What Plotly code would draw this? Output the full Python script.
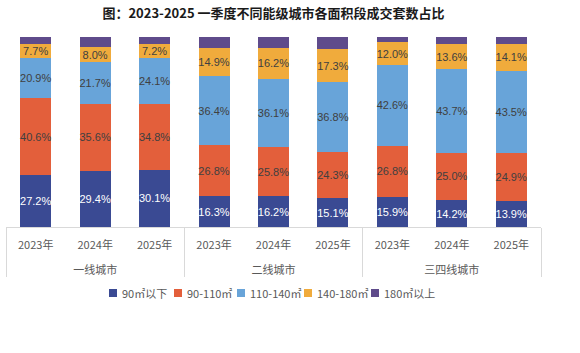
import plotly.graph_objects as go

groups = ["一线城市", "二线城市", "三四线城市"]
years = ["2023年", "2024年", "2025年"]
series_names = ["90㎡以下", "90-110㎡", "110-140㎡", "140-180㎡", "180㎡以上"]
s90 = [27.2, 29.4, 30.1, 16.3, 16.2, 15.1, 15.9, 14.2, 13.9]
s90_110 = [40.6, 35.6, 34.8, 26.8, 25.8, 24.3, 26.8, 25.0, 24.9]
s110_140 = [20.9, 21.7, 24.1, 36.4, 36.1, 36.8, 42.6, 43.7, 43.5]
s140_180 = [7.7, 8.0, 7.2, 14.9, 16.2, 17.3, 12.0, 13.6, 14.1]
s180 = [3.6, 5.3, 3.8, 5.6, 5.7, 6.5, 2.7, 3.5, 3.6]

colors = ["#3A4A93", "#E35F3B", "#68A4D9", "#F0AB3C", "#5F4B8B"]
text_colors = ["white", "#404040", "#404040", "#404040", "#404040"]
all_series = [s90, s90_110, s110_140, s140_180, s180]

# outer labels pushed down one line to sit below the year row
outer = ["<br>" + g for g in groups]
xcat = [[g for g in outer for _ in years], years * len(groups)]

fig = go.Figure()
for i, (name, vals) in enumerate(zip(series_names, all_series)):
    show_text = i < 4
    fig.add_trace(go.Bar(
        x=xcat, y=vals, name=name,
        marker=dict(color=colors[i], line=dict(width=0)),
        text=[f"{v:.1f}%" for v in vals] if show_text else None,
        textposition="inside" if show_text else "none",
        insidetextanchor="middle",
        textangle=0,
        constraintext="none",
        textfont=dict(family="Liberation Sans, Arial", size=11, color=text_colors[i]),
        hoverinfo="skip",
        showlegend=False,
    ))

# custom compact legend (small squares right next to the labels)
dom_l, dom_r = 6, 541
def px2paper(px):
    return (px - dom_l) / (dom_r - dom_l)
legend_px = [109, 174, 237, 304, 371]
leg_y_px = 293
top_px, bot_px = 37, 227
def py2paper(py):
    return (bot_px - py) / (bot_px - top_px)
for i, name in enumerate(series_names):
    x0 = legend_px[i]
    fig.add_shape(type="rect", xref="paper", yref="paper",
                  x0=px2paper(x0), x1=px2paper(x0 + 8),
                  y0=py2paper(leg_y_px + 4), y1=py2paper(leg_y_px - 4),
                  fillcolor=colors[i], line=dict(width=0))
    fig.add_annotation(xref="paper", yref="paper", x=px2paper(x0 + 10.5),
                       y=py2paper(leg_y_px), xanchor="left", yanchor="middle",
                       text=name, showarrow=False,
                       font=dict(family="Noto Sans CJK SC", size=11, color="#595959"))

fig.update_layout(
    width=580, height=353,
    barmode="stack", bargap=0.48,
    paper_bgcolor="white", plot_bgcolor="white",
    margin=dict(l=dom_l, r=580 - dom_r, t=top_px, b=353 - bot_px),
    title=dict(text="<b>图：2023-2025 一季度不同能级城市各面积段成交套数占比</b>",
               x=0.4715, xanchor="center", y=0.963, yanchor="middle",
               font=dict(family="Noto Sans CJK SC", size=13, color="#1a1a1a")),
    showlegend=False,
    uniformtext=dict(minsize=11, mode="show"),
    font=dict(family="Noto Sans CJK SC"),
)
fig.update_xaxes(type="multicategory", showline=True, linecolor="#d9d9d9", linewidth=1,
                 showdividers=True, dividercolor="#d9d9d9", dividerwidth=1,
                 tickfont=dict(family="Noto Sans CJK SC", size=11, color="#595959"),
                 ticks="", ticklabelstandoff=8, showgrid=False)
fig.update_yaxes(range=[0, 100], visible=False, showgrid=False)

fig.write_html("out.html")
